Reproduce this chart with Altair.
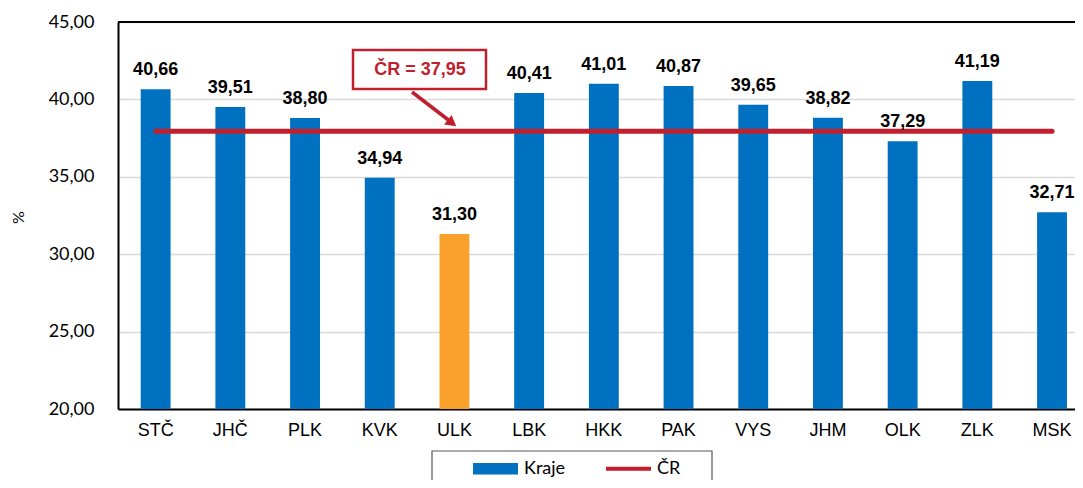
import altair as alt
import pandas as pd

kraje = ["STČ", "JHČ", "PLK", "KVK", "ULK", "LBK", "HKK", "PAK", "VYS", "JHM", "OLK", "ZLK", "MSK"]
hodnoty = [40.66, 39.51, 38.80, 34.94, 31.30, 40.41, 41.01, 40.87, 39.65, 38.82, 37.29, 41.19, 32.71]
cr_hodnota = 37.95
zvyrazneny = "ULK"
y_ticks = [20, 25, 30, 35, 40, 45]

BLUE = "#0070C0"
ORANGE = "#F9A12A"
RED = "#C0202E"

df = pd.DataFrame({"kraj": kraje, "hodnota": hodnoty})
df["serie"] = "Kraje"
df["cr"] = cr_hodnota
df["serie_cr"] = "ČR"

W, H = 957, 387

xscale = alt.Scale(domain=kraje, paddingInner=0.6, paddingOuter=0.2056, align=0.739)
yscale = alt.Scale(domain=[20, 45], nice=False, zero=False)
cscale = alt.Scale(domain=["Kraje", "ČR"], range=[BLUE, RED])

base = alt.Chart(df)

x_enc = alt.X("kraj:N", scale=xscale, sort=kraje, title=None,
              axis=alt.Axis(labelFont="Liberation Sans", labelFontSize=18, labelColor="#000",
                            labelAngle=0, labelPadding=12, ticks=False, domainColor="#000",
                            domainWidth=2))

legend = alt.Legend(
    title=None, orient="none", legendX=355, legendY=424, direction="horizontal",
    columns=2, columnPadding=40, symbolSize=2025, labelOffset=6,
    symbolType={"expr": "datum.label == 'ČR' ? 'M-1,-0.09H1V0.09H-1Z' : 'M-1,-0.26H1V0.26H-1Z'"},
    symbolStrokeWidth=0, labelFont="Lato", labelFontSize=18, labelColor="#000",
)

bars = base.mark_bar().encode(
    x=x_enc,
    y=alt.Y("hodnota:Q", scale=yscale, title="%",
            axis=alt.Axis(values=y_ticks, labelExpr="replace(format(datum.value, '.2f'), '.', ',')",
                          labelFont="Lato", labelFontSize=18, labelColor="#000", labelPadding=24,
                          ticks=False, domainColor="#000", domainWidth=2,
                          gridColor="#d9d9d9", gridWidth=1.3,
                          titleFont="Lato", titleFontSize=16, titleFontWeight="normal",
                          titleColor="#000", titleX=-100, titleY=195, titleAngle=-90,
                          titleAlign="center", titleBaseline="middle")),
    y2=alt.datum(20),
    color=alt.condition(alt.datum.kraj == zvyrazneny, alt.value(ORANGE),
                        alt.Color("serie:N", scale=cscale, legend=legend)),
)

labels = base.transform_calculate(
    txt="replace(format(datum.hodnota, '.2f'), '.', ',')"
).mark_text(font="Liberation Sans", fontSize=18, fontWeight="bold", color="#000",
            baseline="alphabetic", dy=-14).encode(
    x=alt.X("kraj:N", scale=xscale, sort=kraje),
    y=alt.Y("hodnota:Q", scale=yscale),
    text="txt:N",
)

line = base.mark_line(strokeWidth=5, strokeCap="round").encode(
    x=alt.X("kraj:N", scale=xscale, sort=kraje),
    y=alt.Y("cr:Q", scale=yscale),
    color=alt.Color("serie_cr:N", scale=cscale, legend=legend),
)

top_border = alt.Chart(pd.DataFrame({"v": [y_ticks[-1]]})).mark_rule(color="#000", strokeWidth=2).encode(
    y=alt.Y("v:Q", scale=yscale), x=alt.value(0), x2=alt.value(W)
)

ann_df = pd.DataFrame({"t": ["ČR = " + f"{cr_hodnota:.2f}".replace(".", ",")]})
ann_box = alt.Chart(ann_df).mark_rect(fill="#fff", stroke=RED, strokeWidth=2.5).encode(
    x=alt.value(235), x2=alt.value(368), y=alt.value(28), y2=alt.value(67)
)
ann_text = alt.Chart(ann_df).mark_text(font="Liberation Sans", fontSize=18, fontWeight="bold",
                                       color=RED, baseline="middle", align="center").encode(
    x=alt.value(302), y=alt.value(48), text="t:N"
)
arrow_shaft = alt.Chart(ann_df).mark_rule(color=RED, strokeWidth=3.5).encode(
    x=alt.value(294), x2=alt.value(333), y=alt.value(70), y2=alt.value(100)
)
arrow_head = alt.Chart(ann_df).mark_point(shape="triangle-up", filled=True, color=RED,
                                          size=150, angle=128, opacity=1).encode(
    x=alt.value(334), y=alt.value(101)
)

legend_box = alt.Chart(ann_df).mark_rect(fill=None, stroke="#595959", strokeWidth=1.2).encode(
    x=alt.value(314), x2=alt.value(594), y=alt.value(429), y2=alt.value(500)
)

chart = alt.layer(bars, line, labels, top_border, ann_box, ann_text, arrow_shaft, arrow_head, legend_box).properties(
    width=W, height=H,
    padding={"left": 110, "top": 14, "right": 0, "bottom": 71},
    autosize=alt.AutoSizeParams(type="none"),
).configure_view(stroke=None).configure(background="#ffffff")

chart.save("out.html", embed_options={"renderer": "svg", "actions": False})
